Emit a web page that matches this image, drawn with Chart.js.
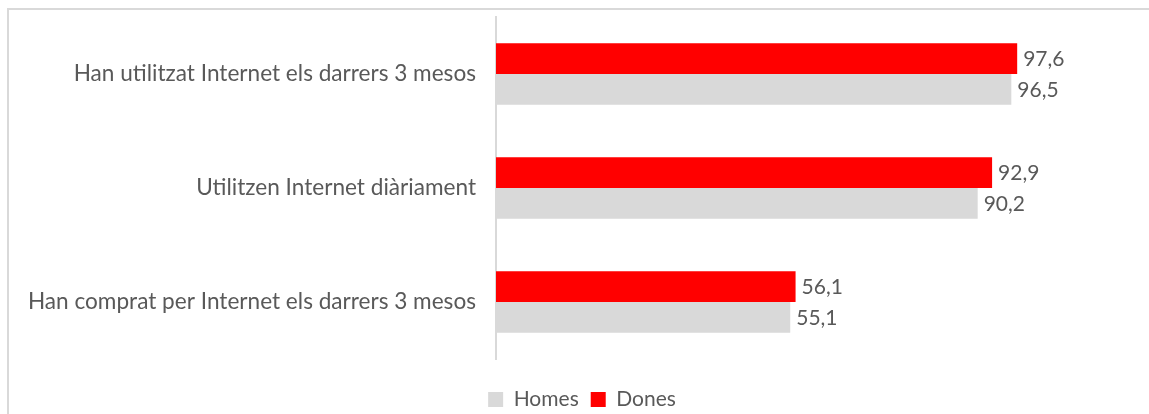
<!DOCTYPE html>
<html>
<head>
<meta charset="utf-8">
<script src="https://cdn.jsdelivr.net/npm/chart.js@4.4.0/dist/chart.umd.min.js"></script>
<style>
  html, body { margin: 0; padding: 0; background: #fff; }
  #frame { position: absolute; left: 7px; top: 8px; width: 1160px; height: 420px; border: 2px solid #d9d9d9; box-sizing: border-box; }
  #wrap { position: absolute; left: 0; top: 0; width: 1149px; height: 414px; }
</style>
</head>
<body>
<div id="frame"></div>
<div id="wrap"><canvas id="chart_bar"></canvas></div>
<script>
const categories = [
  "Han utilitzat Internet els darrers 3 mesos",
  "Utilitzen Internet diàriament",
  "Han comprat per Internet els darrers 3 mesos",
];
const dones = [97.6, 92.9, 56.1];
const homes = [96.5, 90.2, 55.1];

const fontFamily = "Lato, 'Open Sans', sans-serif";
const textColor = "#595959";

// value labels at the end of each bar, decimal comma
const valueLabels = {
  id: "valueLabels",
  afterDatasetsDraw(chart) {
    const ctx = chart.ctx;
    ctx.save();
    ctx.font = "21px " + fontFamily;
    ctx.fillStyle = textColor;
    ctx.textBaseline = "middle";
    ctx.textAlign = "left";
    chart.data.datasets.forEach((ds, i) => {
      chart.getDatasetMeta(i).data.forEach((bar, j) => {
        const txt = ds.data[j].toFixed(1).replace(".", ",");
        ctx.fillText(txt, bar.x + 6, bar.y + 1);
      });
    });
    ctx.restore();
  },
};

// legend sits a bit right of the canvas centre in the original
const legendShift = {
  id: "legendShift",
  beforeDraw(chart) {
    if (chart.legend) {
      chart.legend.left = 134;
      chart.legend.right = 1030;
    }
  },
};

new Chart(document.getElementById("chart_bar"), {
  type: "bar",
  data: {
    labels: categories,
    datasets: [
      {
        label: "Dones",
        backgroundColor: "#ff0000",
        data: dones,
      },
      {
        label: "Homes",
        backgroundColor: "#d9d9d9",
        data: homes,
      },
    ],
  },
  options: {
    indexAxis: "y",
    responsive: true,
    maintainAspectRatio: false,
    animation: false,
    barPercentage: 1,
    categoryPercentage: 0.54,
    layout: {
      padding: { left: 0, right: 119, top: 17, bottom: -6 },
    },
    plugins: {
      tooltip: { enabled: false },
      legend: {
        display: true,
        position: "bottom",
        reverse: true,
        labels: {
          color: textColor,
          font: { family: fontFamily, size: 21 },
          boxWidth: 15,
          boxHeight: 15,
          padding: 12,
        },
      },
    },
    scales: {
      x: {
        min: 0,
        max: 100,
        display: true,
        grid: { display: false, drawTicks: false },
        border: { display: false },
        ticks: { display: false },
        afterFit(scale) {
          scale.height = 18;
        },
      },
      y: {
        grid: { display: false, drawTicks: false },
        border: { display: true, color: "#d9d9d9", width: 2 },
        ticks: {
          color: textColor,
          font: { family: fontFamily, size: 22.6 },
          padding: 20,
        },
        afterFit(scale) {
          scale.width = 496;
          scale.paddingTop = 0;
          scale.paddingBottom = 0;
        },
      },
    },
  },
  plugins: [valueLabels, legendShift],
});
</script>
</body>
</html>
